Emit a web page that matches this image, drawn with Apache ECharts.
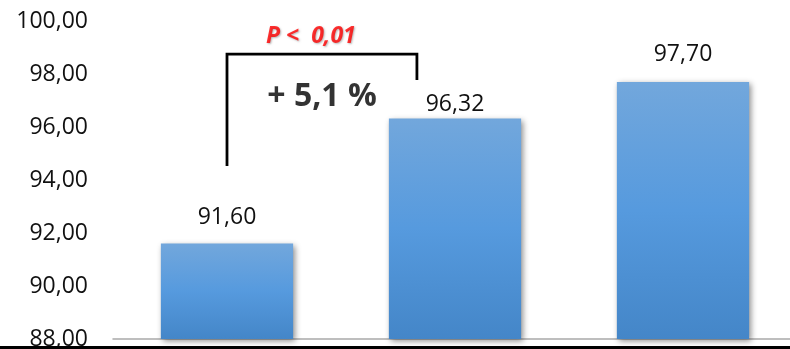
<!DOCTYPE html>
<html>
<head>
<meta charset="utf-8">
<script src="https://cdn.jsdelivr.net/npm/echarts@6/dist/echarts.min.js"></script>
<style>
  html, body { margin: 0; padding: 0; background: #fff; }
  #chart { width: 790px; height: 349px; }
</style>
</head>
<body>
<div id="chart"></div>
<script>
// Bar values per group
const categories = ['1', '2', '3'];
const values = [91.60, 96.32, 97.70];

// Value axis range
const yMin = 88;
const yMax = 100;
const yStep = 2;

// Significance bracket between the first two bars (x in category units, y in axis values)
const bracketX = [0, 0, 0.833, 0.833];
const bracketY = [94.53, 98.75, 98.75, 97.77];

// Annotation texts and their anchor points
const pText = 'P <  0,01';
const pPos = [0.368, 99.40];
const changeText = '+ 5,1 %';
const changePos = [0.417, 97.14];

const fmt = v => v.toFixed(2).replace('.', ',');
const FONT = '"Open Sans", "Liberation Sans", sans-serif';

const chart = echarts.init(document.getElementById('chart'), null, { renderer: 'canvas' });

const barColor = new echarts.graphic.LinearGradient(0, 0, 0, 1, [
  { offset: 0, color: '#72a7dc' },
  { offset: 0.5, color: '#569ade' },
  { offset: 1, color: '#4486c8' }
]);

// Label distances above each bar (the middle one sits lower, under the bracket)
const labelDistances = [14, 2, 15];

chart.setOption({
  animation: false,
  backgroundColor: '#ffffff',
  grid: {
    left: 113, top: 21, width: 684, height: 318,
    containLabel: false,
    outerBoundsMode: 'none'
  },
  xAxis: [
    {
      type: 'category',
      data: categories,
      boundaryGap: true,
      axisLine: { show: true, lineStyle: { color: '#a9a9a9', width: 1.5 } },
      axisTick: { show: false },
      axisLabel: { show: false },
      splitLine: { show: false }
    },
    {
      type: 'value',
      min: -0.5,
      max: 2.5,
      show: false
    }
  ],
  yAxis: {
    type: 'value',
    min: yMin,
    max: yMax,
    interval: yStep,
    axisLine: { show: false },
    axisTick: { show: false },
    splitLine: { show: false },
    axisLabel: {
      margin: 25,
      fontFamily: FONT,
      fontSize: 23,
      color: '#111111',
      formatter: fmt
    }
  },
  series: [
    {
      type: 'bar',
      xAxisIndex: 0,
      barWidth: '58%',
      data: values.map((v, i) => ({
        value: v,
        label: { distance: labelDistances[i] }
      })),
      itemStyle: {
        color: barColor,
        shadowColor: 'rgba(0,0,0,0.45)',
        shadowBlur: 6,
        shadowOffsetX: 2,
        shadowOffsetY: 2
      },
      label: {
        show: true,
        position: 'top',
        fontFamily: FONT,
        fontSize: 23,
        lineHeight: 24,
        color: '#111111',
        formatter: p => fmt(p.value)
      },
      z: 2
    },
    {
      type: 'line',
      xAxisIndex: 1,
      data: bracketX.map((x, i) => [x, bracketY[i]]),
      symbol: 'none',
      lineStyle: { color: '#000000', width: 2.8, cap: 'butt', join: 'miter' },
      z: 3
    },
    {
      type: 'scatter',
      xAxisIndex: 1,
      symbolSize: 0,
      data: [
        {
          value: pPos,
          label: {
            show: true,
            position: 'inside',
            formatter: pText,
            fontFamily: FONT,
            fontSize: 23,
            fontWeight: 'bold',
            fontStyle: 'italic',
            color: '#ff0000',
            textShadowColor: 'rgba(0,0,0,0.35)',
            textShadowBlur: 2,
            textShadowOffsetX: 1,
            textShadowOffsetY: 1
          }
        },
        {
          value: changePos,
          label: {
            show: true,
            position: 'inside',
            formatter: changeText,
            fontFamily: FONT,
            fontSize: 32,
            fontWeight: 'bold',
            color: '#000000'
          }
        }
      ],
      z: 4
    }
  ],
  graphic: [
    {
      type: 'rect',
      shape: { x: 0, y: 346, width: 790, height: 3 },
      style: { fill: '#000000' },
      z: 100
    }
  ]
});
</script>
</body>
</html>
